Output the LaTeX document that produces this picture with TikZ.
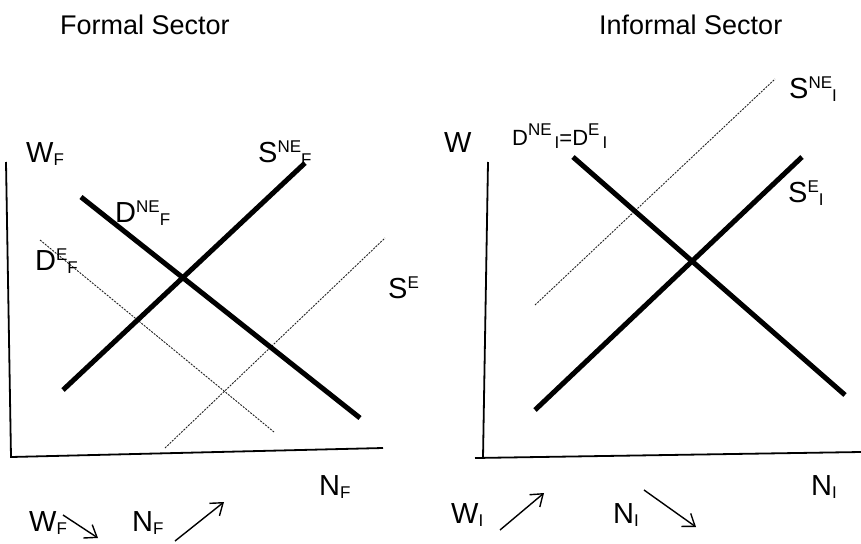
\documentclass[tikz,border=0pt]{standalone}
\usepackage{fontspec}
\setmainfont{Liberation Sans}
\usetikzlibrary{arrows.meta}
\definecolor{ink}{HTML}{000000}
\definecolor{faint}{HTML}{222222}
% letter with raised and lowered index
\newcommand{\idx}[3]{#1\raisebox{10pt}{\fontsize{17}{17}\selectfont #2}\raisebox{-3pt}{\fontsize{17}{17}\selectfont #3}}
\tikzset{
  lbl/.style={inner sep=0pt, anchor=base west, font=\fontsize{29}{32}\selectfont},
  title/.style={inner sep=0pt, anchor=base west, font=\fontsize{27}{30}\selectfont},
  curve/.style={ink, line width=5pt},
  shiftcurve/.style={faint, line width=0.9pt, dash pattern=on 2pt off 1.2pt},
  axis/.style={ink, line width=1.8pt},
  trend/.style={ink, line width=1.4pt, -{Straight Barb[length=11pt, width=16pt, line width=1.4pt]}}
}
\begin{document}
\begin{tikzpicture}[x=1pt, y=-1pt]
  \useasboundingbox (0,0) rectangle (861,543);

  % Formal sector
  \node[title] (tF) at (60,35) {Formal Sector};
  \coordinate (oF) at (11,457);
  \coordinate (yF) at (6,162);
  \coordinate (xF) at (383,448);
  \draw[axis] (yF) -- (oF) -- (xF);
  \node[lbl] (wF) at (26,162) {\idx{W}{}{F}};
  \node[lbl] (nF) at (319,495) {\idx{N}{}{F}};

  \coordinate (sneF1) at (63,390);  \coordinate (sneF2) at (305,163);
  \coordinate (dneF1) at (81,197);  \coordinate (dneF2) at (360,418);
  \coordinate (deF1) at (40,240);   \coordinate (deF2) at (274,432);
  \coordinate (seF1) at (165,448);  \coordinate (seF2) at (385,238);
  \draw[shiftcurve] (deF1) -- (deF2);
  \draw[shiftcurve] (seF1) -- (seF2);
  \draw[curve] (sneF1) -- (sneF2);
  \draw[curve] (dneF1) -- (dneF2);
  \node[lbl] (lsneF) at (258,162) {\idx{S}{NE}{F}};
  \node[lbl] (ldneF) at (115,222) {\idx{D}{NE}{F}};
  \node[lbl] (ldeF) at (35,270) {\idx{D}{E}{F}};
  \node[lbl] (lseF) at (388,298) {\idx{S}{E}{}};

  % Informal sector
  \node[title] (tI) at (599,35) {Informal Sector};
  \coordinate (oI) at (483,458);
  \coordinate (yI) at (488,162);
  \coordinate (xI0) at (475,458);
  \coordinate (xI) at (861,452);
  \draw[axis] (yI) -- (oI);
  \draw[axis] (xI0) -- (xI);
  \node[lbl] (wI) at (444,152) {W};
  \node[lbl] (nI) at (811,495) {\idx{N}{}{I}};

  \coordinate (dI1) at (573,157);   \coordinate (dI2) at (845,395);
  \coordinate (seI1) at (535,410);  \coordinate (seI2) at (802,157);
  \coordinate (sneI1) at (535,305); \coordinate (sneI2) at (775,79);
  \draw[shiftcurve] (sneI1) -- (sneI2);
  \draw[curve] (dI1) -- (dI2);
  \draw[curve] (seI1) -- (seI2);
  \node[lbl, font=\fontsize{22}{24}\selectfont] (ldI) at (512,145)
    {\idx{D}{NE\hspace{3pt}}{I}=\idx{D}{E\hspace{3pt}}{I}};
  \node[lbl] (lsneI) at (789,98) {\idx{S}{NE}{I}};
  \node[lbl] (lseI) at (788,202) {\idx{S}{E}{I}};

  % Effects
  \node[lbl] (efW) at (29,531) {\idx{W}{}{F}};
  \coordinate (aW1) at (63,515);  \coordinate (aW2) at (98,538);
  \draw[trend] (aW1) -- (aW2);
  \node[lbl] (efN) at (132,531) {\idx{N}{}{F}};
  \coordinate (aN1) at (175,541); \coordinate (aN2) at (224,502);
  \draw[trend] (aN1) -- (aN2);
  \node[lbl] (efWI) at (451,523) {\idx{W}{}{I}};
  \coordinate (aWI1) at (500,530); \coordinate (aWI2) at (544,493);
  \draw[trend] (aWI1) -- (aWI2);
  \node[lbl] (efNI) at (613,523) {\idx{N}{}{I}};
  \coordinate (aNI1) at (644,490); \coordinate (aNI2) at (696,527);
  \draw[trend] (aNI1) -- (aNI2);
\end{tikzpicture}
\end{document}
